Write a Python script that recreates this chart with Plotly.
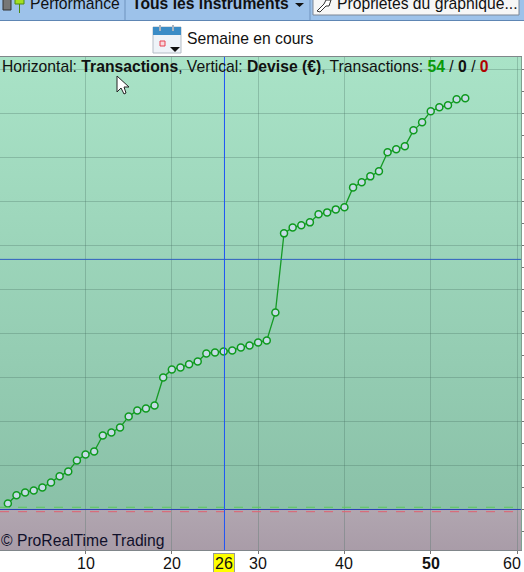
import plotly.graph_objects as go

trades = list(range(1, 55))
equity = [136, 325, 386, 432, 500, 614, 757, 864, 1114, 1250, 1318, 1682, 1750, 1864, 2114, 2250, 2295, 2364,
          3000, 3182, 3227, 3302, 3364, 3545, 3568, 3591, 3614, 3682, 3727, 3795, 3841, 4477, 6273, 6409, 6455,
          6523, 6705, 6750, 6818, 6864, 7318, 7432, 7568, 7682, 8114, 8182, 8250, 8614, 8795, 9045, 9136, 9182,
          9318, 9341]
x_ticks = [10, 20, 30, 40, 50, 60]
x_labels = ["10", "20", "30", "40", "<b>50</b>", "60"]
cursor_trade = 26.1
cursor_value = 5682
x_range = [0.09, 60.46]
y_range = [-925, 10280]

W, H = 524, 572
FONT = "Liberation Sans"
px = lambda v: v / W
py = lambda v: 1 - v / H
dom_x = [0, 521 / W]
dom_y = [py(550.2), py(57)]

fig = go.Figure()

fig.add_trace(go.Scatter(
    x=[x_range[0], x_range[1], x_range[1], x_range[0], x_range[0]],
    y=[0, 0, y_range[1], y_range[1], 0], mode="lines", line=dict(width=0), fill="toself",
    fillgradient=dict(type="vertical", colorscale=[[0, "#8AC1A8"], [1, "#A9E3C7"]]),
    hoverinfo="skip", showlegend=False, xaxis="x", yaxis="y"))
fig.add_trace(go.Scatter(
    x=[x_range[0], x_range[1], x_range[1], x_range[0], x_range[0]],
    y=[y_range[0], y_range[0], 0, 0, y_range[0]], mode="lines", line=dict(width=0), fill="toself",
    fillgradient=dict(type="vertical", colorscale=[[0, "#A99CA8"], [1, "#B1A6B0"]]),
    hoverinfo="skip", showlegend=False, xaxis="x", yaxis="y"))

fig.add_trace(go.Scatter(
    x=trades, y=equity, mode="lines+markers", line=dict(color="#169A26", width=1.3),
    marker=dict(size=7, color="#C6DCE6", line=dict(color="#0E9A1E", width=1.5)),
    showlegend=False, xaxis="x2", yaxis="y2"))

shapes = []
for val, col, dash, w in [(50, "#5CC85C", "dash", 1), (-50, "#E06070", "dash", 1), (0, "#2A3FB8", "solid", 1),
                          (cursor_value, "#2F5FC0", "solid", 1)]:
    shapes.append(dict(type="line", xref="x2", yref="y2", x0=x_range[0], x1=x_range[1], y0=val, y1=val,
                       line=dict(color=col, width=w, dash=dash)))
shapes.append(dict(type="line", xref="x2", yref="paper", x0=cursor_trade, x1=cursor_trade, y0=dom_y[0], y1=dom_y[1],
                   line=dict(color="#1F55F5", width=1)))

shapes += [
    dict(type="rect", xref="paper", yref="paper", x0=0, x1=1, y0=py(20), y1=1, line=dict(width=0), fillcolor="#9DC2EA"),
    dict(type="line", xref="paper", yref="paper", x0=0, x1=1, y0=py(20.5), y1=py(20.5), line=dict(color="#5E86B4", width=1)),
    dict(type="line", xref="paper", yref="paper", x0=px(125), x1=px(125), y0=py(20), y1=1, line=dict(color="#6E93BE", width=1)),
    dict(type="line", xref="paper", yref="paper", x0=px(310), x1=px(310), y0=py(20), y1=1, line=dict(color="#6E93BE", width=1)),
    dict(type="rect", xref="paper", yref="paper", x0=px(313), x1=px(519), y0=py(15), y1=py(-3), line=dict(color="#7C8796", width=1), fillcolor="#F6F6F6"),
    dict(type="rect", xref="paper", yref="paper", x0=px(3), x1=px(11), y0=py(10), y1=py(-1), line=dict(color="#333333", width=1), fillcolor="#777777"),
    dict(type="rect", xref="paper", yref="paper", x0=px(15), x1=px(24), y0=py(4), y1=py(-1), line=dict(color="#4C8A10", width=1), fillcolor="#A4E020"),
    dict(type="line", xref="paper", yref="paper", x0=px(19.5), x1=px(19.5), y0=py(13), y1=py(4), line=dict(color="#4C8A10", width=1)),
    dict(type="path", xref="paper", yref="paper",
         path=f"M {px(317)} {py(11)} L {px(324)} {py(4)} L {px(326)} {py(0)} L {px(331)} {py(0)} L {px(329)} {py(6)} L {px(326)} {py(6)} L {px(320)} {py(12)} Z",
         line=dict(color="#333333", width=1), fillcolor="#FFFFFF"),
    dict(type="rect", xref="paper", yref="paper", x0=px(153), x1=px(181), y0=py(53), y1=py(27), line=dict(color="#B5BDC6", width=1), fillcolor="#EEF3F8"),
    dict(type="rect", xref="paper", yref="paper", x0=px(153), x1=px(181), y0=py(35), y1=py(27), line=dict(width=0), fillcolor="#3B8CC6"),
    dict(type="rect", xref="paper", yref="paper", x0=px(159), x1=px(161), y0=py(31), y1=py(25), line=dict(width=0), fillcolor="#AAB4BE"),
    dict(type="rect", xref="paper", yref="paper", x0=px(172), x1=px(174), y0=py(31), y1=py(25), line=dict(width=0), fillcolor="#AAB4BE"),
    dict(type="rect", xref="paper", yref="paper", x0=px(160), x1=px(165), y0=py(46), y1=py(41), line=dict(color="#E84050", width=1), fillcolor="#F8D8DC"),
    dict(type="path", xref="paper", yref="paper", path=f"M {px(170)} {py(47)} L {px(180)} {py(47)} L {px(175)} {py(52)} Z", line=dict(width=0), fillcolor="#111111"),
    dict(type="path", xref="paper", yref="paper", path=f"M {px(295)} {py(3)} L {px(304)} {py(3)} L {px(299.5)} {py(7)} Z", line=dict(width=0), fillcolor="#111111"),
    dict(type="path", xref="paper", yref="paper",
         path=f"M {px(117)} {py(76)} L {px(117)} {py(92)} L {px(121)} {py(88)} L {px(124)} {py(94)} L {px(126)} {py(93)} L {px(124)} {py(87)} L {px(129)} {py(87)} Z",
         line=dict(color="#222222", width=1), fillcolor="#FFFFFF"),
]

def note(x, y, text, size=15.7, color="#111111", **kw):
    return dict(xref="paper", yref="paper", x=px(x - 2), y=py(y), text=text, showarrow=False, xanchor="left", yanchor="middle",
                font=dict(family=FONT, size=size, color=color), **kw)

annotations = [
    note(30, 4, "Performance"),
    note(132, 4, "<b>Tous les instruments</b>"),
    note(337, 4, "Propriétés du graphique..."),
    note(187, 38, "Semaine en cours"),
    note(2, 66, "Horizontal: <b>Transactions</b>, Vertical: <b>Devise (€)</b>, Transactions: "
                "<b><span style='color:#0A9A0A'>54</span></b> / <b>0</b> / <b><span style='color:#B00000'>0</span></b>"),
    note(1, 540, "© ProRealTime Trading", color="#10102A"),
    dict(xref="x2", yref="paper", x=cursor_trade, y=py(563.5), yanchor="middle", text="26", showarrow=False, bgcolor="#FFFF00",
         bordercolor="#999999", borderwidth=1, borderpad=1, font=dict(family=FONT, size=16, color="#111111")),
]
for tick, label in zip(x_ticks, x_labels):
    annotations.append(dict(xref="x2", yref="paper", x=tick, y=py(563.5), yanchor="middle", text=label, showarrow=False,
                            xanchor="right" if tick == x_ticks[-1] else "center", xshift=6 if tick == x_ticks[-1] else 0,
                            font=dict(family=FONT, size=16, color="#111111")))

hidden = dict(visible=False, fixedrange=True)
fig.update_layout(
    width=W, height=H, margin=dict(l=0, r=0, t=0, b=0), showlegend=False,
    paper_bgcolor="#FFFFFF", plot_bgcolor="rgba(0,0,0,0)", shapes=shapes, annotations=annotations,
    xaxis=dict(domain=dom_x, range=x_range, anchor="y", **hidden),
    yaxis=dict(domain=dom_y, range=y_range, anchor="x", **hidden),
    xaxis2=dict(domain=dom_x, range=x_range, anchor="y2", tickvals=x_ticks, showticklabels=False, showgrid=True,
                gridcolor="rgba(70,110,95,0.3)", gridwidth=1, zeroline=False, ticks="outside", ticklen=3,
                tickcolor="#777777", showline=True, linecolor="#80868A", mirror=True),
    yaxis2=dict(domain=dom_y, range=y_range, anchor="x2", side="right", dtick=1000, tick0=0, showgrid=True,
                gridcolor="rgba(70,110,95,0.3)", gridwidth=1, zeroline=False, showticklabels=False,
                ticks="outside", ticklen=3, tickcolor="#777777", showline=True, linecolor="#80A090", mirror=True,
                minor=dict(dtick=500, ticks="outside", ticklen=3, tickcolor="#777777", showgrid=False)),
)

fig.write_html("out.html", config=dict(displayModeBar=False),
               post_script="document.body.style.margin='0';document.body.style.overflow='hidden';")
